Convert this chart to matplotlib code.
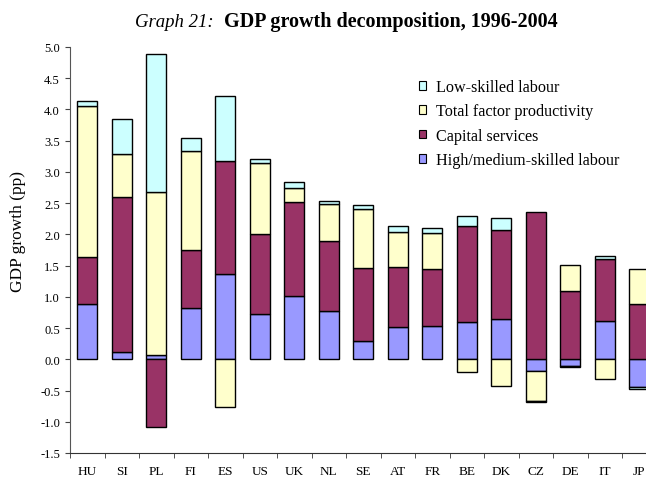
import numpy as np
import matplotlib.pyplot as plt
from matplotlib.patches import Patch

countries = ["HU", "SI", "PL", "FI", "ES", "US", "UK", "NL", "SE", "AT", "FR",
             "BE", "DK", "CZ", "DE", "IT", "JP"]

# contributions in percentage points
high_med = [0.88, 0.12, 0.07, 0.82, 1.37, 0.72, 1.02, 0.78, 0.30, 0.52, 0.54,
            0.59, 0.64, -0.19, -0.10, 0.61, -0.45]
capital = [0.76, 2.48, -1.08, 0.93, 1.81, 1.28, 1.50, 1.12, 1.16, 0.96, 0.90,
           1.54, 1.43, 2.36, 1.10, 1.00, 0.89]
tfp = [2.41, 0.68, 2.61, 1.59, -0.77, 1.14, 0.22, 0.58, 0.94, 0.56, 0.58,
       -0.20, -0.42, -0.47, 0.41, -0.31, 0.56]
low = [0.09, 0.56, 2.20, 0.20, 1.04, 0.06, 0.10, 0.06, 0.07, 0.09, 0.09,
       0.17, 0.20, -0.02, -0.02, 0.05, -0.03]

series = [
    ("High/medium-skilled labour", high_med, "#9999FF"),
    ("Capital services", capital, "#993366"),
    ("Total factor productivity", tfp, "#FFFFCC"),
    ("Low-skilled labour", low, "#CCFFFF"),
]

plt.rcParams['font.family'] = ['Liberation Serif', 'DejaVu Serif']

fig = plt.figure(figsize=(6.46, 4.81), dpi=100)
ax = fig.add_axes([70 / 646, 27 / 481, 586.5 / 646, 406 / 481])

x = np.arange(len(countries))
pos_base = np.zeros(len(countries))
neg_base = np.zeros(len(countries))
for name, vals, col in series:
    v = np.array(vals)
    bottom = np.where(v >= 0, pos_base, neg_base)
    ax.bar(x, v, width=0.58, bottom=bottom, color=col, edgecolor="black",
           linewidth=1.0, zorder=3)
    pos_base += np.where(v >= 0, v, 0)
    neg_base += np.where(v < 0, v, 0)

yt = np.arange(-1.5, 5.01, 0.5)
ax.set_xlim(-0.5, len(countries) - 0.5)
ax.set_ylim(-1.5, 5.0)
ax.set_yticks(yt)
ax.set_yticklabels([f"{t:.1f}" for t in yt], fontsize=9)
ax.set_xticks(x)
ax.set_xticklabels(countries, fontsize=9.5)
ax.set_xticks(np.arange(-0.5, len(countries), 1), minor=True)
ax.tick_params(axis="x", which="major", length=0, pad=8.5)
ax.tick_params(axis="x", which="minor", length=3.6, direction="out", color="#333333")
ax.tick_params(axis="y", length=3.6, direction="out", color="#444444", pad=3.6)

for s in ["top", "right"]:
    ax.spines[s].set_visible(False)
ax.spines["left"].set_color("#555555")
ax.spines["bottom"].set_color("#333333")

fig.text(18 / 646, 1 - 232 / 481, "GDP growth (pp)", rotation=90, ha="center",
         va="center", fontsize=12.5)

handles = [Patch(facecolor=col, edgecolor="black", linewidth=0.8, label=name)
           for name, _, col in reversed(series)]
fig.legend(handles=handles, loc="upper left", bbox_to_anchor=(419 / 646, 1 - 80 / 481),
           bbox_transform=fig.transFigure, frameon=False, fontsize=11.6,
           handlelength=0.45, handleheight=0.45, handletextpad=0.6,
           labelspacing=0.52, borderpad=0, borderaxespad=0)

fig.text(0.33, 1 - 27 / 481, "Graph 21:", ha="right", va="baseline", style="italic",
         fontsize=13.5)
fig.text(224 / 646, 1 - 27 / 481, "GDP growth decomposition, 1996-2004", ha="left",
         va="baseline", weight="bold", fontsize=14.5)

fig.savefig("out.png", dpi=100)
